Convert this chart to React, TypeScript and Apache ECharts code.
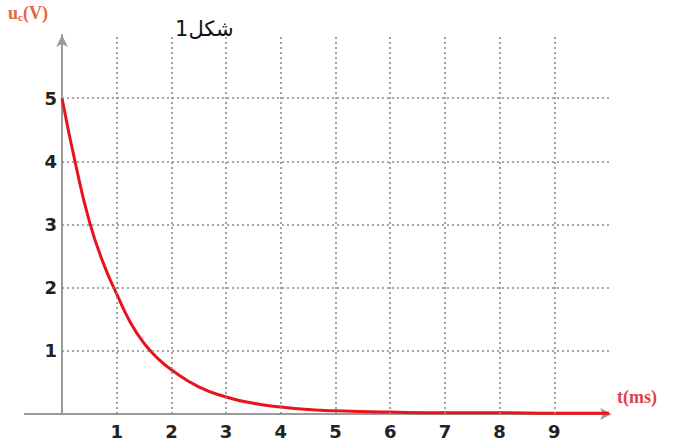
import React, { useEffect, useRef } from "react";
import * as echarts from "echarts";

// time in ms
const tValues = [0, 0.25, 0.5, 0.75, 1, 1.25, 1.5, 1.75, 2, 2.5, 3, 3.5, 4, 4.5, 5, 6, 7, 8, 9, 10];
// capacitor voltage uc in V
const ucValues = [5, 3.95, 3.05, 2.4, 1.9, 1.45, 1.12, 0.88, 0.7, 0.43, 0.27, 0.17, 0.11, 0.07, 0.05, 0.03, 0.02, 0.02, 0.01, 0.01];
const xTickLabels = [1, 2, 3, 4, 5, 6, 7, 8, 9];
const yTickLabels = [1, 2, 3, 4, 5];
const xMax = 10;
const yMax = 6;

const SERIF = "'Liberation Serif', 'DejaVu Serif', serif";
const TICKFONT = "'DejaVu Sans', Verdana, sans-serif";

export default function App() {
  const ref = useRef<HTMLDivElement>(null);
  useEffect(() => {
    if (!ref.current) return;
    const chart = echarts.init(ref.current, null, { renderer: "svg" });
    const gridLineStyle = { color: "#8a8a8a", width: 1.6, type: [2, 3] as any };
    const markData: any[] = [];
    yTickLabels.forEach((v) => markData.push([{ coord: [0, v] }, { coord: [xMax, v] }]));
    xTickLabels.forEach((v) => markData.push([{ coord: [v, 0] }, { coord: [v, yMax] }]));

    chart.setOption({
      animation: false,
      backgroundColor: "#ffffff",
      grid: { left: 62, right: 73, top: 35, bottom: 31 },
      xAxis: {
        type: "value",
        min: 0,
        max: xMax,
        interval: 1,
        axisLine: {
          show: true,
          onZero: false,
          lineStyle: { color: "#9a9a9a", width: 2 },
          symbol: ["none", "arrow"],
          symbolSize: [9, 12],
          symbolOffset: [0, 3],
        },
        axisTick: { show: false },
        splitLine: { show: false },
        axisLabel: {
          formatter: (v: number) => (xTickLabels.includes(v) ? String(v) : ""),
          fontFamily: TICKFONT,
          fontWeight: "bold",
          fontSize: 18,
          color: "#222",
          margin: 8,
        },
      },
      yAxis: {
        type: "value",
        min: 0,
        max: yMax,
        interval: 1,
        axisLine: {
          show: true,
          onZero: false,
          lineStyle: { color: "#9a9a9a", width: 2 },
          symbol: ["none", "arrow"],
          symbolSize: [9, 12],
        },
        axisTick: { show: false },
        splitLine: { show: false },
        axisLabel: {
          formatter: (v: number) => (yTickLabels.includes(v) ? String(v) : ""),
          fontFamily: TICKFONT,
          fontWeight: "bold",
          fontSize: 18,
          color: "#222",
          margin: 5,
        },
      },
      series: [
        {
          type: "line",
          data: [],
          z: 1,
          silent: true,
          markLine: {
            silent: true,
            symbol: ["none", "none"],
            label: { show: false },
            lineStyle: gridLineStyle,
            data: markData,
          },
        },
        {
          type: "line",
          z: 3,
          data: tValues.map((t, i) => [t, ucValues[i]]),
          smooth: 0.5,
          showSymbol: false,
          lineStyle: { color: "#e8141c", width: 3 },
        },
      ],
      graphic: [
        {
          type: "line",
          shape: { x1: 24, y1: 414, x2: 62, y2: 414 },
          style: { stroke: "#9a9a9a", lineWidth: 2 },
        },
        {
          type: "text",
          left: 8,
          top: 4,
          style: {
            text: "{u|u}{c|c}{v|(V)}",
            rich: {
              u: { fontFamily: SERIF, fontWeight: "bold", fontSize: 18, fill: "#e8643c" },
              c: { fontFamily: SERIF, fontWeight: "bold", fontSize: 11, fill: "#e8643c", padding: [8, 0, 0, 0] },
              v: { fontFamily: SERIF, fontWeight: "bold", fontSize: 18, fill: "#e8643c" },
            },
          },
        },
        {
          type: "text",
          left: 175,
          top: 18,
          style: {
            text: "شكل1",
            fontFamily: "'DejaVu Sans', 'Liberation Serif', sans-serif",
            fontSize: 21,
            fill: "#111",
          },
        },
        {
          type: "text",
          left: 617,
          top: 388,
          style: {
            text: "t(ms)",
            fontFamily: SERIF,
            fontWeight: "bold",
            fontSize: 18,
            fill: "#e0404a",
          },
        },
      ],
    });
    return () => chart.dispose();
  }, []);
  return (
    <div
      ref={ref}
      style={{ position: "fixed", left: 0, top: 0, width: 682, height: 445, background: "#fff" }}
    />
  );
}
